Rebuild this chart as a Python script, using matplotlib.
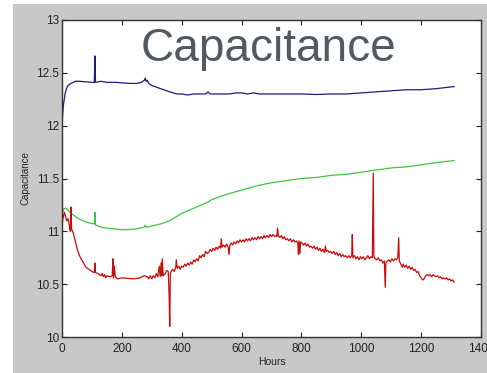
import matplotlib
matplotlib.use("Agg")
import matplotlib.pyplot as plt
from matplotlib.patches import Rectangle

# --- data (hours, capacitance) ----------------------------------------------
blue_h = [0, 2, 5, 10, 15, 20, 30, 45, 60, 80, 100, 108, 110, 112, 130, 150, 180,
          200, 230, 250, 265, 275, 278, 281, 285, 290, 300, 320, 340, 360, 384,
          400, 420, 440, 460, 480, 488, 495, 510, 530, 560, 580, 600, 620, 640,
          660, 700, 750, 800, 850, 900, 950, 1000, 1050, 1100, 1150, 1200, 1250,
          1280, 1310]
blue_c = [11.98, 12.10, 12.20, 12.30, 12.35, 12.38, 12.40, 12.42, 12.42, 12.415,
          12.41, 12.41, 12.66, 12.41, 12.42, 12.41, 12.41, 12.405, 12.40, 12.40,
          12.41, 12.43, 12.45, 12.42, 12.43, 12.40, 12.38, 12.36, 12.34, 12.32,
          12.30, 12.30, 12.29, 12.30, 12.30, 12.30, 12.32, 12.30, 12.30, 12.30,
          12.30, 12.31, 12.31, 12.30, 12.31, 12.30, 12.30, 12.30, 12.30, 12.295,
          12.30, 12.30, 12.31, 12.32, 12.33, 12.34, 12.34, 12.35, 12.36, 12.37]

green_h = [0, 5, 12, 20, 30, 50, 70, 90, 108, 110, 112, 130, 150, 180, 210, 240,
           260, 275, 278, 282, 300, 330, 360, 400, 450, 490, 500, 550, 600, 650,
           700, 750, 800, 850, 900, 950, 1000, 1050, 1100, 1150, 1200, 1250, 1310]
green_c = [11.15, 11.21, 11.22, 11.20, 11.17, 11.13, 11.10, 11.08, 11.07, 11.18,
           11.06, 11.04, 11.03, 11.02, 11.015, 11.02, 11.03, 11.04, 11.06, 11.04,
           11.05, 11.07, 11.10, 11.17, 11.23, 11.28, 11.30, 11.35, 11.39, 11.43,
           11.46, 11.48, 11.50, 11.51, 11.53, 11.54, 11.56, 11.58, 11.60, 11.61,
           11.63, 11.65, 11.67]

red_pts = [
    (0, 11.05), (3, 11.12), (8, 11.18), (12, 11.14), (16, 11.10), (20, 11.12),
    (25, 11.05), (28, 11.00), (30, 11.23), (32, 11.02), (38, 10.98), (45, 10.90),
    (52, 10.82), (60, 10.76), (70, 10.71), (80, 10.66), (90, 10.64), (100, 10.62),
    (108, 10.61), (110, 10.70), (112, 10.61), (120, 10.60), (130, 10.58),
    (135, 10.60), (138, 10.57), (142, 10.59), (146, 10.56), (150, 10.58),
    (160, 10.57), (168, 10.58), (170, 10.74), (172, 10.56), (175, 10.67),
    (178, 10.57), (185, 10.55), (200, 10.56), (220, 10.555), (240, 10.55),
    (260, 10.56), (275, 10.58), (285, 10.57), (290, 10.55), (295, 10.58),
    (300, 10.55), (305, 10.58), (310, 10.56), (315, 10.60), (320, 10.57),
    (325, 10.67), (328, 10.57), (331, 10.70), (333, 10.58), (335, 10.74),
    (338, 10.58), (345, 10.60), (350, 10.63), (355, 10.62), (358, 10.38),
    (360, 10.10), (362, 10.60), (366, 10.63), (370, 10.64), (375, 10.62),
    (380, 10.66), (382, 10.73), (385, 10.65), (390, 10.67), (395, 10.64),
    (400, 10.67), (405, 10.66), (410, 10.69), (415, 10.67), (420, 10.70),
    (425, 10.68), (430, 10.71), (435, 10.69), (440, 10.73), (445, 10.71),
    (450, 10.74), (455, 10.72), (460, 10.77), (465, 10.75), (470, 10.78),
    (475, 10.76), (480, 10.81), (485, 10.79), (490, 10.80), (495, 10.83),
    (500, 10.81), (505, 10.84), (510, 10.82), (515, 10.85), (520, 10.83),
    (525, 10.86), (530, 10.84), (532, 10.93), (535, 10.85), (540, 10.87),
    (545, 10.85), (550, 10.88), (555, 10.85), (558, 10.78), (561, 10.87),
    (565, 10.89), (570, 10.87), (575, 10.90), (580, 10.88), (585, 10.91),
    (590, 10.89), (595, 10.92), (600, 10.90), (605, 10.92), (610, 10.90),
    (615, 10.93), (620, 10.91), (625, 10.93), (630, 10.91), (635, 10.94),
    (640, 10.92), (645, 10.94), (650, 10.92), (655, 10.95), (660, 10.93),
    (665, 10.95), (670, 10.93), (675, 10.96), (680, 10.94), (685, 10.96),
    (690, 10.94), (695, 10.97), (700, 10.95), (705, 10.97), (710, 10.95),
    (715, 10.96), (718, 10.95), (720, 11.03), (723, 10.96), (728, 10.94),
    (733, 10.96), (738, 10.93), (743, 10.95), (748, 10.92), (753, 10.93),
    (758, 10.91), (763, 10.93), (768, 10.90), (773, 10.92), (778, 10.90),
    (783, 10.91), (788, 10.89), (790, 10.78), (792, 10.91), (795, 10.79),
    (797, 10.90), (802, 10.89), (807, 10.87), (812, 10.89), (817, 10.86),
    (822, 10.88), (827, 10.85), (832, 10.86), (837, 10.84), (842, 10.86),
    (847, 10.83), (852, 10.85), (857, 10.82), (862, 10.84), (867, 10.81),
    (872, 10.83), (877, 10.80), (880, 10.86), (883, 10.81), (888, 10.82),
    (893, 10.80), (898, 10.81), (903, 10.79), (908, 10.81), (913, 10.78),
    (918, 10.80), (923, 10.77), (928, 10.79), (933, 10.76), (938, 10.78),
    (943, 10.76), (948, 10.77), (953, 10.75), (958, 10.77), (963, 10.75),
    (968, 10.77), (970, 10.97), (972, 10.75), (977, 10.77), (982, 10.74),
    (987, 10.76), (992, 10.73), (997, 10.76), (1002, 10.74), (1007, 10.76),
    (1012, 10.73), (1017, 10.75), (1022, 10.77), (1027, 10.74), (1032, 10.76),
    (1037, 10.75), (1040, 11.55), (1042, 10.76), (1047, 10.74), (1052, 10.73),
    (1057, 10.75), (1062, 10.72), (1067, 10.73), (1072, 10.70), (1077, 10.72),
    (1080, 10.47), (1082, 10.70), (1087, 10.72), (1092, 10.73), (1097, 10.71),
    (1102, 10.74), (1107, 10.72), (1112, 10.74), (1117, 10.73), (1122, 10.75),
    (1125, 10.94), (1127, 10.72), (1132, 10.69), (1137, 10.66), (1140, 10.69),
    (1145, 10.66), (1150, 10.68), (1155, 10.65), (1160, 10.67), (1165, 10.64),
    (1170, 10.66), (1175, 10.63), (1180, 10.64), (1185, 10.61), (1190, 10.62),
    (1195, 10.58), (1200, 10.56), (1205, 10.54), (1210, 10.55), (1215, 10.58),
    (1220, 10.59), (1225, 10.58), (1230, 10.59), (1235, 10.57), (1240, 10.59),
    (1245, 10.58), (1250, 10.57), (1255, 10.58), (1260, 10.56), (1265, 10.57),
    (1270, 10.55), (1275, 10.56), (1280, 10.55), (1285, 10.56), (1290, 10.54),
    (1295, 10.55), (1300, 10.53), (1305, 10.54), (1310, 10.52),
]
red_h = [p[0] for p in red_pts]
red_c = [p[1] for p in red_pts]

x_ticks = [0, 200, 400, 600, 800, 1000, 1200, 1400]
y_ticks = [10, 10.5, 11, 11.5, 12, 12.5, 13]
y_labels = ["10", "10.5", "11", "11.5", "12", "12.5", "13"]

plt.rcParams["font.family"] = ["Liberation Sans", "DejaVu Sans"]

fig = plt.figure(figsize=(4.87, 3.73), dpi=100)
fig.patch.set_facecolor("white")
# grey matlab-style figure panel
fig.add_artist(Rectangle((13 / 487, 0), 1, (373 - 4) / 373,
                         transform=fig.transFigure, facecolor="#c8c8c8",
                         edgecolor="none", zorder=0))

ax = fig.add_axes([62 / 487, 36 / 373, 419 / 487, 317 / 373])
ax.set_facecolor("white")

ax.plot(blue_h, blue_c, color="#1c1c7a", lw=0.9)
ax.plot(green_h, green_c, color="#3ec43e", lw=0.9)
ax.plot(red_h, red_c, color="#cc0a0a", lw=0.9)

ax.set_xlim(0, 1400)
ax.set_ylim(10, 13)
ax.set_xticks(x_ticks)
ax.set_yticks(y_ticks)
ax.set_yticklabels(y_labels)
ax.tick_params(direction="in", length=3.5, width=0.8, top=True, right=True,
               labelsize=8.5, colors="#222222", pad=2)
ax.tick_params(axis="x", pad=4)
for s in ax.spines.values():
    s.set_color("#333333")
    s.set_linewidth(1.0)

ax.set_xlabel("Hours", fontsize=7.5, color="#222222", labelpad=2)
ax.set_ylabel("Capacitance", fontsize=7, color="#222222", labelpad=4)

ax.text(0.492, 0.91, "Capacitance", transform=ax.transAxes, ha="center",
        va="center", fontsize=33, color="#505a60")

fig.savefig("out.png", dpi=100)
